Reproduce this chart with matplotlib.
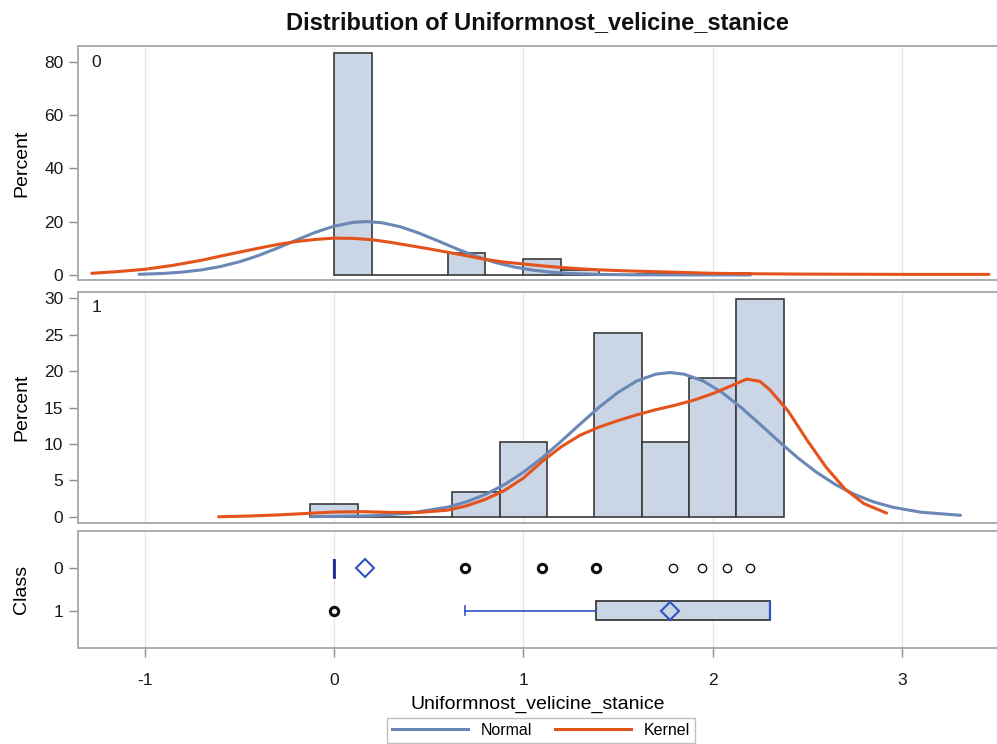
import numpy as np
import matplotlib
matplotlib.use("Agg")
import matplotlib.pyplot as plt
from matplotlib.lines import Line2D

plt.rcParams['font.family'] = ['Liberation Sans', 'DejaVu Sans']

# ---------------- data ----------------
title = "Distribution of Uniformnost_velicine_stanice"
var_name = "Uniformnost_velicine_stanice"
classes = ["0", "1"]

# histogram, class 0 (bin edges and percents)
bins0 = [0.0, 0.2, 0.4, 0.6, 0.8, 1.0, 1.2, 1.4, 1.6, 1.8, 2.0, 2.2]
pct0 = [83.1, 0.0, 0.0, 8.1, 0.0, 5.9, 1.9, 0.0, 0.3, 0.3, 0.6]

# histogram, class 1
bins1 = [-0.125, 0.125, 0.375, 0.625, 0.875, 1.125, 1.375, 1.625, 1.875, 2.125, 2.375]
pct1 = [1.7, 0.0, 0.0, 3.4, 10.3, 0.0, 25.3, 10.3, 19.1, 29.9]

# fitted normal curve, class 0
normal0_x = [-1.03, -0.9, -0.8, -0.7, -0.6, -0.5, -0.4, -0.3, -0.2, -0.1, 0.0, 0.1,
             0.17, 0.25, 0.35, 0.45, 0.55, 0.65, 0.75, 0.85, 0.95, 1.05, 1.15, 1.25,
             1.4, 1.6, 1.9, 2.2]
normal0_y = [0.22, 0.56, 1.06, 1.88, 3.14, 4.92, 7.25, 10.03, 13.04, 15.93, 18.27, 19.70,
             20.0, 19.60, 18.08, 15.65, 12.74, 9.73, 6.99, 4.71, 2.99, 1.78, 0.99, 0.52,
             0.18, 0.03, 0.0, 0.0]
# kernel curve, class 0
kernel0_x = [-1.28, -1.15, -1.0, -0.85, -0.7, -0.55, -0.4, -0.3, -0.2, -0.1, 0.0, 0.1,
             0.2, 0.3, 0.4, 0.5, 0.6, 0.7, 0.8, 0.9, 1.0, 1.1, 1.2, 1.3, 1.4, 1.55,
             1.7, 1.85, 2.0, 2.25, 2.5, 3.0, 3.46]
kernel0_y = [0.6, 1.2, 2.1, 3.6, 5.5, 7.8, 10.0, 11.4, 12.5, 13.3, 13.8, 13.7,
             13.2, 12.2, 11.0, 9.8, 8.5, 7.2, 5.8, 4.8, 4.1, 3.4, 2.8, 2.3, 1.9, 1.5,
             1.2, 0.9, 0.6, 0.4, 0.3, 0.2, 0.2]

# fitted normal curve, class 1
normal1_x = [-0.12, 0.0, 0.2, 0.4, 0.6, 0.7, 0.8, 0.9, 1.0, 1.1, 1.2, 1.3, 1.4, 1.5,
             1.6, 1.7, 1.775, 1.85, 1.95, 2.05, 2.15, 2.25, 2.35, 2.45, 2.55, 2.65,
             2.75, 2.85, 2.95, 3.1, 3.31]
normal1_y = [0.02, 0.04, 0.15, 0.49, 1.32, 2.05, 3.07, 4.41, 6.10, 8.10, 10.36, 12.72,
             15.03, 17.07, 18.65, 19.58, 19.8, 19.58, 18.65, 17.07, 15.03, 12.72, 10.36,
             8.10, 6.10, 4.41, 3.07, 2.05, 1.32, 0.63, 0.20]
# kernel curve, class 1
kernel1_x = [-0.61, -0.45, -0.3, -0.15, 0.0, 0.15, 0.3, 0.45, 0.6, 0.7, 0.8, 0.9,
             1.0, 1.1, 1.2, 1.3, 1.4, 1.5, 1.6, 1.7, 1.8, 1.9, 2.0, 2.1, 2.18, 2.25,
             2.3, 2.4, 2.5, 2.6, 2.7, 2.8, 2.92]
kernel1_y = [0.0, 0.1, 0.25, 0.45, 0.65, 0.7, 0.6, 0.6, 0.9, 1.5, 2.4, 3.6,
             5.3, 7.6, 9.6, 11.2, 12.3, 13.2, 14.0, 14.7, 15.3, 16.0, 16.9, 18.0, 18.9, 18.6,
             17.5, 14.5, 10.5, 6.8, 3.8, 1.8, 0.5]

# box plot statistics (per class)
box_q1 = [0.0, 1.386]
box_med = [0.0, 2.303]
box_q3 = [0.0, 2.303]
box_wlo = [0.0, 0.693]
box_whi = [0.0, 2.303]
box_mean = [0.165, 1.775]
# outliers: value, class index, multiplicity (overlapping points)
out_val = [0.693, 1.099, 1.386, 1.792, 1.946, 2.079, 2.197, 0.0]
out_cls = [0, 0, 0, 0, 0, 0, 0, 1]
out_mult = [3, 3, 3, 1, 1, 1, 1, 3]

# ---------------- styles ----------------
BAR_FC = '#cad5e5'
BAR_EC = '#3a3a3a'
BLUE = '#6a87b6'
ORANGE = '#e4531c'
FRAME = '#a9adb2'
GRID = '#e6e6e6'
BOXBLUE = '#2f55c4'
XLIM = (-1.353, 3.503)
xticks = [-1, 0, 1, 2, 3]
YLABEL_X = -0.052

fig = plt.figure(figsize=(9.97, 7.44), dpi=100)
ax1 = fig.add_axes([0.0782, 0.6237, 0.9218, 0.3149])
ax2 = fig.add_axes([0.0782, 0.2974, 0.9218, 0.3105])
ax3 = fig.add_axes([0.0782, 0.1286, 0.9218, 0.1581])


def style(ax):
    ax.set_xlim(*XLIM)
    ax.set_xticks(xticks)
    for x in xticks:
        ax.axvline(x, color=GRID, lw=1.0, zorder=0)
    for s in ['left', 'top', 'bottom']:
        ax.spines[s].set_color(FRAME)
        ax.spines[s].set_linewidth(1.4)
    ax.spines['right'].set_visible(False)
    ax.tick_params(axis='both', colors='#8a8e92', labelcolor='#1a1a1a',
                   labelsize=12.5, length=6.5, width=1.0, pad=4)


for ax, edges, pct, nx, ny, kx, ky, lab in [
        (ax1, bins0, pct0, normal0_x, normal0_y, kernel0_x, kernel0_y, classes[0]),
        (ax2, bins1, pct1, normal1_x, normal1_y, kernel1_x, kernel1_y, classes[1])]:
    style(ax)
    e = np.asarray(edges)
    ax.bar(e[:-1], pct, width=np.diff(e), align='edge', color=BAR_FC,
           edgecolor=BAR_EC, linewidth=1.2, zorder=2)
    ax.plot(nx, ny, color=BLUE, lw=2.2, zorder=3, solid_capstyle='round',
            solid_joinstyle='round')
    ax.plot(kx, ky, color=ORANGE, lw=2.2, zorder=4, solid_capstyle='round',
            solid_joinstyle='round')
    ax.set_ylabel("Percent", fontsize=14)
    ax.yaxis.set_label_coords(YLABEL_X, 0.5)
    ax.tick_params(axis='x', length=0, labelbottom=False)
    ax.text(0.015, 0.93, lab, transform=ax.transAxes, fontsize=12.5,
            ha='left', va='center', color='#1a1a1a')

ax1.set_ylim(-1.9, 86.0)
ax1.set_yticks([0, 20, 40, 60, 80])
ax2.set_ylim(-0.82, 30.9)
ax2.set_yticks([0, 5, 10, 15, 20, 25, 30])

# box plot panel
style(ax3)
stats = []
for i in range(len(classes)):
    stats.append(dict(q1=box_q1[i], med=box_med[i], q3=box_q3[i],
                      whislo=box_wlo[i], whishi=box_whi[i], mean=box_mean[i],
                      fliers=[], label=classes[i]))
ax3.bxp(stats, positions=list(range(len(classes))), widths=0.44,
        orientation='horizontal', patch_artist=True, showmeans=True,
        showfliers=False, manage_ticks=False, capwidths=0.2,
        boxprops=dict(facecolor=BAR_FC, edgecolor='#3c3c3c', linewidth=1.3),
        medianprops=dict(color=BOXBLUE, linewidth=1.6),
        whiskerprops=dict(color=BOXBLUE, linewidth=1.2),
        capprops=dict(color=BOXBLUE, linewidth=1.2),
        meanprops=dict(marker='D', markersize=9, markerfacecolor='none',
                       markeredgecolor=BOXBLUE, markeredgewidth=1.5))
# class 0 has a degenerate box: draw its line in dark blue
ax3.plot([box_med[0], box_med[0]], [-0.2, 0.2], color='#1f2f8f', lw=2.0, zorder=5)
for v, c, m in zip(out_val, out_cls, out_mult):
    ax3.plot(v, c, marker='o', markersize=6,
             markerfacecolor='none', markeredgecolor='#111111',
             markeredgewidth=2.2 if m > 1 else 1.0, zorder=6)
ax3.set_ylim(1.89, -0.89)
ax3.set_yticks([0, 1])
ax3.set_yticklabels(classes)
ax3.set_ylabel("Class", fontsize=14)
ax3.yaxis.set_label_coords(YLABEL_X, 0.5)
ax3.tick_params(axis='x', pad=11)
ax3.set_xticklabels([str(t) for t in xticks])
ax3.set_xlabel(var_name, fontsize=14, labelpad=6)

fig.text(0.5395, 0.970, title, ha='center', va='center', fontsize=17,
         fontweight='bold', color='#111111')

handles = [Line2D([], [], color=BLUE, lw=2.2), Line2D([], [], color=ORANGE, lw=2.2)]
leg = fig.legend(handles, ["Normal", "Kernel"], loc='upper center',
                 bbox_to_anchor=(0.5426, 1 - 718 / 744), ncol=2, fontsize=11.5,
                 frameon=True, fancybox=False, edgecolor='#b0b0b0',
                 handlelength=4.8, columnspacing=1.4, borderpad=0.3,
                 handletextpad=0.8, borderaxespad=0.0)
leg.get_frame().set_linewidth(1.0)

fig.savefig('out.png', dpi=100)
